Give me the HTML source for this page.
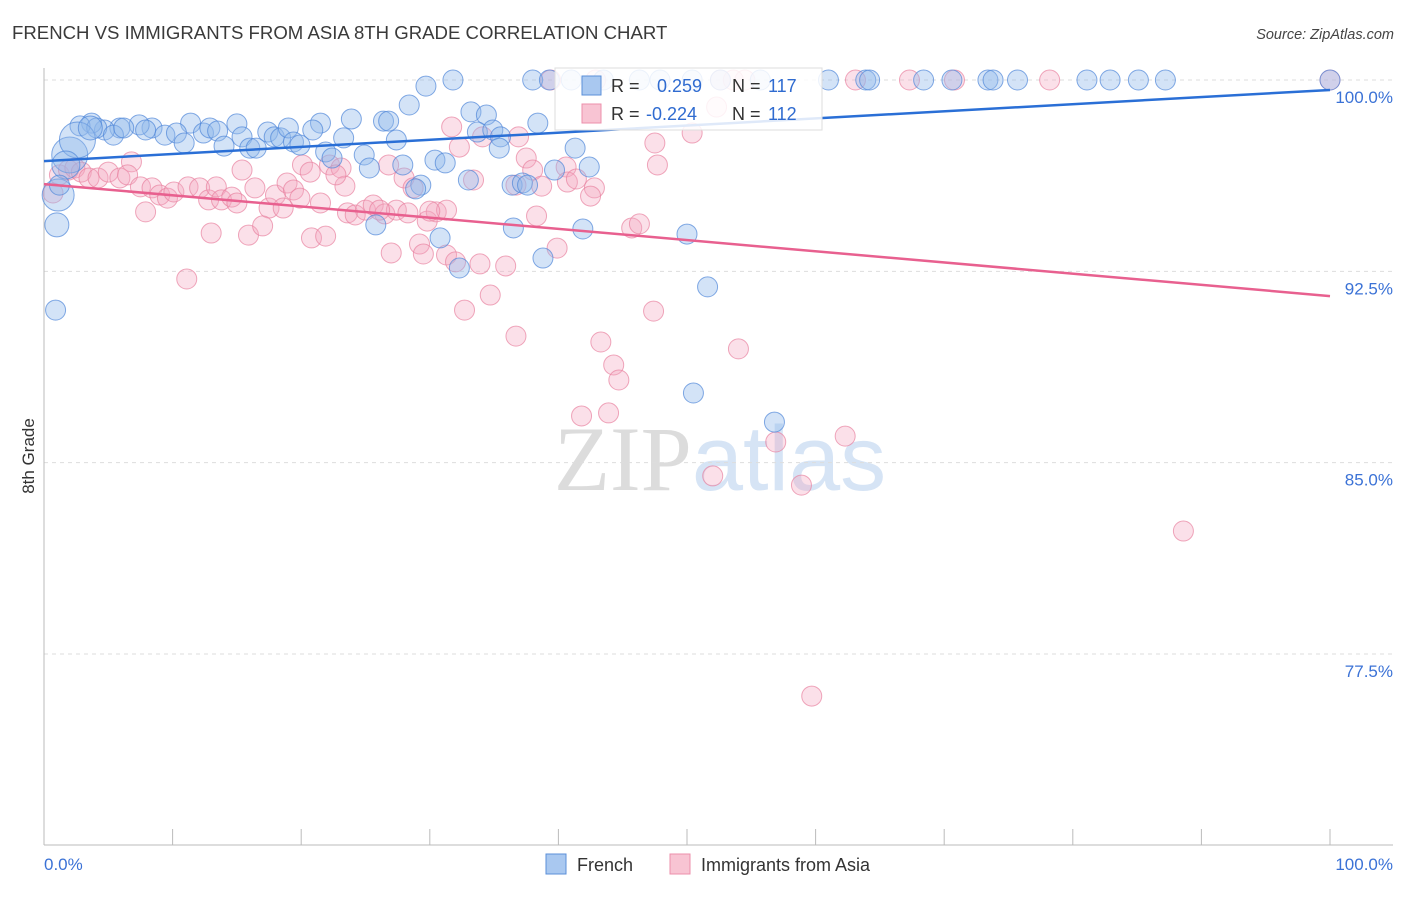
<!DOCTYPE html>
<html><head><meta charset="utf-8"><style>
body{margin:0;background:#fff;font-family:"Liberation Sans",sans-serif;}
svg text{font-family:"Liberation Sans",sans-serif;}
</style></head><body>
<svg id="chart" width="1406" height="892" xmlns="http://www.w3.org/2000/svg">
<text x="12" y="39" font-size="18.6" fill="#3a3a3a">FRENCH VS IMMIGRANTS FROM ASIA 8TH GRADE CORRELATION CHART</text>
<text x="1394" y="39" font-size="14.5" fill="#444" text-anchor="end" font-style="italic">Source: ZipAtlas.com</text>
<text x="720" y="490" font-size="92" text-anchor="middle" fill="#e4e4e4"><tspan font-family="Liberation Serif" fill="#dcdcdc">ZIP</tspan><tspan fill="#d6e4f5">atlas</tspan></text>
<g id="grid"></g>
<g id="axes"></g>
<g id="pts"></g>
<g id="lines"></g>
<text transform="translate(34,456) rotate(-90)" font-size="17" fill="#333" text-anchor="middle">8th Grade</text>
<g>
<rect x="555" y="68" width="267" height="62" fill="#fff" fill-opacity="0.85" stroke="#ddd"/>
<rect x="582" y="76" width="19" height="19" fill="#a9c8f0" stroke="#5b8fd8"/>
<rect x="582" y="104" width="19" height="19" fill="#f8c4d3" stroke="#ec8fab"/>
<text x="611" y="92" font-size="18" fill="#333">R = </text><text x="657" y="92" font-size="18" fill="#2f6bd0">0.259</text>
<text x="732" y="92" font-size="18" fill="#333">N = </text><text x="768" y="92" font-size="18" fill="#2f6bd0">117</text>
<text x="611" y="120" font-size="18" fill="#333">R = </text><text x="646" y="120" font-size="18" fill="#2f6bd0">-0.224</text>
<text x="732" y="120" font-size="18" fill="#333">N = </text><text x="768" y="120" font-size="18" fill="#2f6bd0">112</text>
</g>
<g><rect x="546" y="854" width="20" height="20" fill="#a9c8f0" stroke="#5b8fd8"/><text x="577" y="871" font-size="18" fill="#333">French</text></g>
<g><rect x="670" y="854" width="20" height="20" fill="#f8c4d3" stroke="#ec8fab"/><text x="701" y="871" font-size="18" fill="#333">Immigrants from Asia</text></g>
</svg>
<script>
const yTicks=[100,92.5,85,77.5];
const yTickLabels=["100.0%","92.5%","85.0%","77.5%"];
const xLabels=["0.0%","100.0%"];
const frenchX=[100,31.8,38.0,39.3,41.0,46.3,47.9,50.4,52.6,55.7,61.0,63.9,64.2,68.4,70.6,73.4,73.8,75.7,81.1,82.9,85.1,87.2,43.5,29.7,28.4,33.2,34.4,23.9,26.4,26.8,21.5,15.0,11.4,8.4,7.4,5.9,4.7,3.7,2.8,4.1,5.4,6.2,7.9,9.4,10.3,10.9,12.4,12.9,13.5,14.0,15.4,16.0,16.5,17.4,17.9,18.4,19.0,19.4,19.9,20.9,21.9,22.4,23.3,24.9,25.3,27.4,27.9,29.3,30.4,31.2,33.0,33.7,34.9,35.5,35.4,36.4,37.2,37.6,38.4,39.7,41.3,42.4,25.8,28.9,30.8,32.3,36.5,38.8,41.9,50.0,51.6,50.5,56.8,0.9,1.0,1.1,2.0,2.6,1.7,3.6,1.2];
const frenchY=[100,100,100,100,100,100,100,100,100,100,100,100,100,100,100,100,100,100,100,100,100,100,100,99.76,99.02,98.75,98.63,98.47,98.39,98.39,98.31,98.28,98.31,98.12,98.24,98.12,98.04,98.31,98.2,98.12,97.84,98.12,98.04,97.84,97.92,97.53,97.92,98.12,98.0,97.41,97.77,97.33,97.33,97.96,97.77,97.73,98.12,97.57,97.45,98.04,97.18,96.94,97.73,97.06,96.55,97.65,96.67,95.88,96.86,96.75,96.08,97.96,98.04,97.77,97.33,95.88,95.96,95.88,98.31,96.47,97.33,96.59,94.32,95.73,93.81,92.63,94.2,93.02,94.16,93.96,91.89,87.73,86.59,90.98,94.32,95.49,97.06,97.65,96.67,98.12,95.88];
const frenchR=[];frenchX.forEach((v,i)=>frenchR.push(10));
frenchR[94]=12;frenchR[95]=16;frenchR[96]=18;frenchR[97]=18;frenchR[98]=14;frenchR[99]=12;frenchR[101]=12;
const asiaX=[100,39.4,42.9,52.6,54.5,63.1,67.3,70.8,78.2,53.6,52.3,31.7,34.1,36.9,50.4,32.3,47.5,37.5,47.7,38.0,40.6,28.0,33.4,28.7,38.7,40.7,42.8,36.7,42.5,0.7,1.2,1.9,2.4,2.9,3.5,4.2,5.0,5.9,6.8,6.5,7.5,8.4,9.0,9.6,10.1,11.2,12.1,12.8,13.4,13.8,14.6,15.0,15.4,16.4,17.5,18.0,18.6,18.9,19.4,19.9,20.1,20.7,21.5,22.2,23.1,23.4,23.6,24.2,25.0,25.6,26.5,27.4,28.3,29.2,29.8,30.5,31.3,26.8,26.1,7.9,11.1,13.0,15.9,17.0,20.8,21.9,22.7,27.0,29.5,31.3,32.7,33.9,34.7,35.9,36.7,38.3,39.9,41.4,43.3,44.3,44.7,45.7,46.3,47.4,41.8,43.9,52.0,54.0,56.9,58.9,62.3,88.6,59.7,30.0,32.0];
const asiaY=[100,100,100,100,100,100,100,100,100,100,98.94,98.16,97.77,97.77,97.92,97.37,97.53,96.94,96.67,96.47,96.59,96.16,96.08,95.77,95.84,96.0,95.77,95.88,95.45,95.57,96.28,96.47,96.55,96.39,96.16,96.16,96.39,96.16,96.79,96.28,95.81,95.77,95.49,95.37,95.61,95.81,95.77,95.3,95.81,95.3,95.41,95.18,96.47,95.77,94.98,95.49,94.98,95.96,95.69,95.37,96.67,96.39,95.18,96.67,96.55,95.84,94.79,94.71,94.9,95.1,94.75,94.9,94.79,93.57,94.47,94.83,94.9,96.67,94.9,94.83,92.2,94.0,93.92,94.28,93.81,93.88,96.28,93.22,93.18,93.14,90.98,92.79,91.57,92.71,89.96,94.67,93.41,96.12,89.73,88.83,88.24,94.2,94.36,90.94,86.83,86.95,84.48,89.46,85.81,84.12,86.04,82.32,75.85,94.86,92.87];
const frenchTrend=[96.82,99.61];
const asiaTrend=[95.92,91.53];
const NS='http://www.w3.org/2000/svg';
function sx(v){return 44+v*12.86;}
function sy(v){return 80+(100-v)*25.51;}
function mk(tag,attrs,parent){const e=document.createElementNS(NS,tag);for(const k in attrs)e.setAttribute(k,attrs[k]);parent.appendChild(e);return e;}
const grid=document.getElementById('grid'),axes=document.getElementById('axes'),pts=document.getElementById('pts'),lines=document.getElementById('lines');
yTicks.forEach((t,i)=>{
 const l=mk('line',{x1:44,x2:1393,y1:sy(t),y2:sy(t),stroke:'#ddd','stroke-dasharray':'4,4'},grid);
 
 
 const tx=mk('text',{x:1393,y:sy(t)+23,'font-size':17,fill:'#3b72d6','text-anchor':'end'},axes);
 tx.textContent=yTickLabels[i];
 
 
});
const ax=mk('line',{x1:44,x2:44,y1:68,y2:845,stroke:'#bbb'},axes);


const bx=mk('line',{x1:44,x2:1393,y1:845,y2:845,stroke:'#bbb'},axes);


for(let i=0;i<=10;i++){
 const tk=mk('line',{x1:sx(i*10),x2:sx(i*10),y1:829,y2:845,stroke:'#bbb'},axes);
 
 
}
const xl0=mk('text',{x:44,y:870,'font-size':17,fill:'#3b72d6'},axes);xl0.textContent=xLabels[0];


const xl1=mk('text',{x:1393,y:870,'font-size':17,fill:'#3b72d6','text-anchor':'end'},axes);xl1.textContent=xLabels[1];


asiaX.forEach((x,i)=>{
 const c=mk('circle',{cx:sx(x),cy:sy(asiaY[i]),r:10,fill:'#f4a6bf','fill-opacity':0.35,stroke:'#e8819f','stroke-opacity':0.7},pts);
 
 
});
frenchX.forEach((x,i)=>{
 const c=mk('circle',{cx:sx(x),cy:sy(frenchY[i]),r:frenchR[i],fill:'#90b8ec','fill-opacity':0.4,stroke:'#4f86d8','stroke-opacity':0.7},pts);
 
 
});
const fl=mk('line',{x1:sx(0),x2:sx(100),y1:sy(frenchTrend[0]),y2:sy(frenchTrend[1]),stroke:'#2a6fd6','stroke-width':2.5},lines);


const al=mk('line',{x1:sx(0),x2:sx(100),y1:sy(asiaTrend[0]),y2:sy(asiaTrend[1]),stroke:'#e8608f','stroke-width':2.5},lines);


</script>
</body></html>
